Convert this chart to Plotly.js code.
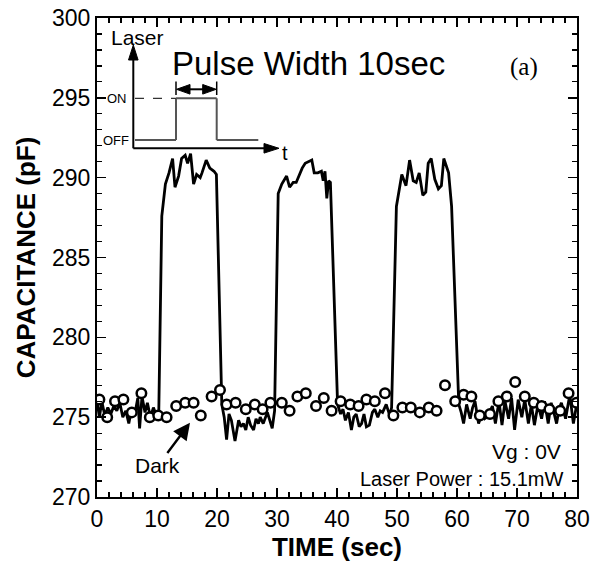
<!DOCTYPE html>
<html>
<head>
<meta charset="utf-8">
<script src="https://cdn.plot.ly/plotly-3.0.1.min.js"></script>
<style>html,body{margin:0;padding:0;background:#fff;}#chart{width:592px;height:570px;}</style>
</head>
<body>
<div id="chart"></div>
<script>
// Laser-illuminated capacitance (solid line)
const laserTime = [0.0,0.4,0.8,1.3,1.8,2.3,2.8,3.3,3.8,4.3,4.8,5.3,5.8,6.3,6.8,7.1,7.5,8.0,8.4,8.9,9.4,9.9,10.3,
  10.8,11.4,12.0,12.6,13.0,13.6,14.1,14.7,15.1,15.6,16.1,16.6,17.2,17.5,18.2,18.8,19.5,19.9,
  20.8,21.2,21.6,22.0,22.4,23.0,23.6,24.0,24.4,24.8,25.2,25.6,26.1,26.5,26.9,27.2,27.7,28.4,28.9,29.2,29.6,
  30.2,30.8,31.6,32.1,32.7,33.2,33.7,34.2,34.7,35.2,35.8,36.2,36.8,37.4,37.7,38.0,38.3,38.6,38.9,
  40.1,40.6,41.0,41.4,41.9,42.4,42.8,43.2,43.7,44.1,44.5,44.9,45.4,45.9,46.3,46.8,47.2,47.6,48.2,48.8,49.1,
  49.9,50.8,51.5,52.1,52.7,53.2,53.7,54.3,54.8,55.2,55.7,56.3,56.9,57.4,57.8,58.6,59.1,
  60.3,60.7,61.1,61.6,62.2,62.6,63.0,63.6,64.1,64.6,65.0,65.5,65.9,66.4,67.0,67.5,68.0,68.6,69.1,69.6,
  70.2,70.8,71.3,71.9,72.4,72.9,73.5,74.1,74.6,75.2,75.7,76.2,76.6,77.0,77.4,78.1,78.8,79.4,80.0];
const laserCap = [276.0,275.0,276.0,275.1,275.6,275.2,275.7,275.4,275.9,275.0,275.4,274.6,275.6,275.2,276.2,274.3,276.3,275.3,275.9,275.0,275.6,275.1,275.4,
  287.6,289.6,290.3,291.2,289.4,290.1,291.2,291.4,290.9,291.5,289.6,290.2,290.0,290.3,291.1,290.6,290.4,290.2,
  275.8,275.0,273.6,275.2,274.8,273.5,274.8,274.4,274.6,274.2,275.0,274.5,274.2,274.9,274.6,275.0,274.6,275.3,274.6,274.3,275.4,
  289.0,289.6,290.1,289.4,289.7,289.7,290.2,290.6,290.9,291.0,291.1,290.3,290.3,290.4,289.8,290.4,288.7,289.8,289.7,
  275.8,275.2,275.5,274.8,275.3,274.2,275.0,275.2,274.4,274.6,275.2,274.4,274.5,275.3,275.5,275.0,275.4,275.3,275.8,275.1,275.6,
  288.2,290.2,289.5,291.1,289.8,289.7,290.3,288.9,289.1,290.9,291.2,289.9,289.3,289.5,291.2,290.3,288.2,
  275.8,275.3,274.6,275.8,274.9,275.6,276.0,274.6,275.2,274.9,275.0,275.4,275.7,274.6,276.0,274.5,276.0,274.9,276.2,274.2,
  276.1,275.0,276.1,274.6,275.8,274.5,275.8,274.9,276.0,274.6,275.9,275.2,274.6,275.5,275.9,274.9,276.4,274.6,275.9];

// Dark capacitance (open circles)
const darkTime = [0.4,1.7,3.0,4.4,5.8,7.4,8.8,10.2,11.6,13.2,14.7,16.1,17.3,19.1,20.5,21.6,23.1,24.8,26.3,27.6,
  28.9,30.8,32.1,33.4,34.8,36.5,37.8,39.1,40.6,42.2,43.6,44.9,46.3,48.0,49.4,50.9,52.3,53.8,55.3,56.6,
  58.0,59.7,61.1,62.4,63.8,65.5,66.9,68.3,69.7,71.3,72.8,74.1,75.4,77.2,78.6,79.9];
const darkCap = [276.1,275.0,276.0,276.1,275.3,276.5,275.0,275.1,275.0,275.7,275.9,275.9,275.1,276.3,276.7,275.8,275.9,275.5,275.8,275.5,
  275.9,275.9,275.4,276.3,276.5,275.7,276.2,275.4,276.0,275.8,275.7,276.1,276.0,276.5,275.1,275.6,275.6,275.3,275.6,275.4,
  277.0,276.0,276.4,276.3,275.1,275.2,276.0,276.3,277.2,276.3,275.9,275.7,275.5,275.4,276.5,275.9];

const xTickVals = [0,10,20,30,40,50,60,70,80];
const yTickVals = [270,275,280,285,290,295,300];

// plot-area geometry (pixels) for the schematic inset
const L = 97, R = 577, T = 18, B = 497;
const px = p => (p - L) / (R - L);
const py = p => (B - p) / (B - T);

const FONT = "Liberation Sans, Arial, Helvetica, sans-serif";

const traces = [
  {x: laserTime, y: laserCap, type: 'scatter', mode: 'lines',
   line: {color: '#000', width: 2.8}, hoverinfo: 'skip'},
  {x: darkTime, y: darkCap, type: 'scatter', mode: 'markers',
   marker: {symbol: 'circle', size: 9.5, color: '#fff', line: {color: '#000', width: 2.5}}, hoverinfo: 'skip'}
];

const pline = (x0, y0, x1, y1, color, width, dash) => ({
  type: 'line', xref: 'paper', yref: 'paper',
  x0: px(x0), y0: py(y0), x1: px(x1), y1: py(y1),
  line: {color: color, width: width, dash: dash || 'solid'}
});
const tri = (pts, color) => ({
  type: 'path', xref: 'paper', yref: 'paper',
  path: 'M' + pts.map(p => px(p[0]) + ',' + py(p[1])).join(' L') + ' Z',
  fillcolor: color, line: {color: color, width: 1}
});

const shapes = [
  // inset axes
  pline(133.3, 148.3, 133.3, 58, '#000', 2),
  tri([[133.3, 45], [128.5, 60], [138.1, 60]], '#000'),
  pline(133.3, 148.3, 266, 148.3, '#000', 2),
  tri([[279, 148.3], [264, 143.5], [264, 153.1]], '#000'),
  // laser pulse waveform
  pline(135, 140, 176, 140, '#555', 2),
  pline(176, 140, 176, 98.3, '#555', 2),
  pline(176, 98.3, 216.7, 98.3, '#555', 2),
  pline(216.7, 98.3, 216.7, 140, '#555', 2),
  pline(216.7, 140, 258.3, 140, '#555', 2),
  pline(135, 98.3, 176, 98.3, '#333', 1.3, 'dash'),
  // pulse width marker
  pline(176, 81.5, 176, 95, '#000', 1.5),
  pline(216.7, 81.5, 216.7, 95, '#000', 1.5),
  pline(188, 89.3, 205, 89.3, '#000', 2),
  tri([[176.5, 89.3], [190, 84.5], [190, 94.1]], '#000'),
  tri([[216.2, 89.3], [202.7, 84.5], [202.7, 94.1]], '#000')
];

const ann = (x, y, text, size, extra) => Object.assign({
  xref: 'paper', yref: 'paper', x: px(x), y: py(y), text: text, showarrow: false,
  font: {family: FONT, size: size, color: '#000'}, xanchor: 'center', yanchor: 'middle'
}, extra || {});

const annotations = [
  ann(137, 37, 'Laser', 21),
  ann(308, 63, 'Pulse Width 10sec', 33),
  ann(524, 67, '(a)', 25, {font: {family: 'Liberation Serif, Times New Roman, serif', size: 25, color: '#000'}}),
  ann(117, 99, 'ON', 13),
  ann(116, 141, 'OFF', 13),
  ann(285, 153, 't', 20),
  ann(563, 451, 'Vg : 0V', 21, {xanchor: 'right'}),
  ann(566, 479, 'Laser Power : 15.1mW', 20, {xanchor: 'right'}),
  {xref: 'x', yref: 'y', x: 15.6, y: 274.7, text: 'Dark', showarrow: true,
   arrowhead: 2, arrowsize: 1.4, arrowwidth: 2.4, arrowcolor: '#000', standoff: 1,
   ax: -33, ay: 44, font: {family: FONT, size: 21, color: '#000'}}
];

const axisCommon = {
  showgrid: false, zeroline: false, showline: true, linecolor: '#000', linewidth: 2,
  mirror: 'allticks', ticks: 'inside', ticklen: 9, tickwidth: 1.5, tickcolor: '#000',
  tickfont: {family: FONT, size: 23, color: '#000'}
};

const layout = {
  width: 592, height: 570,
  margin: {l: L, r: 592 - R, t: T, b: 570 - B},
  paper_bgcolor: '#fff', plot_bgcolor: '#fff',
  showlegend: false,
  font: {family: FONT, color: '#000'},
  xaxis: Object.assign({}, axisCommon, {
    range: [0, 80], tickvals: xTickVals, ticktext: xTickVals.map(String),
    minor: {dtick: 2, ticklen: 5, tickwidth: 1.2, tickcolor: '#000', ticks: 'inside'},
    title: {text: '<b>TIME (sec)</b>', font: {family: FONT, size: 26, color: '#000'}, standoff: 5}
  }),
  yaxis: Object.assign({}, axisCommon, {
    range: [270, 300], tickvals: yTickVals, ticktext: yTickVals.map(String),
    minor: {dtick: 1, ticklen: 5, tickwidth: 1.2, tickcolor: '#000', ticks: 'inside'},
    title: {text: '<b>CAPACITANCE (pF)</b>', font: {family: FONT, size: 26, color: '#000'}, standoff: 9}
  }),
  shapes: shapes,
  annotations: annotations
};

Plotly.newPlot('chart', traces, layout, {displayModeBar: false, staticPlot: true});
</script>
</body>
</html>
